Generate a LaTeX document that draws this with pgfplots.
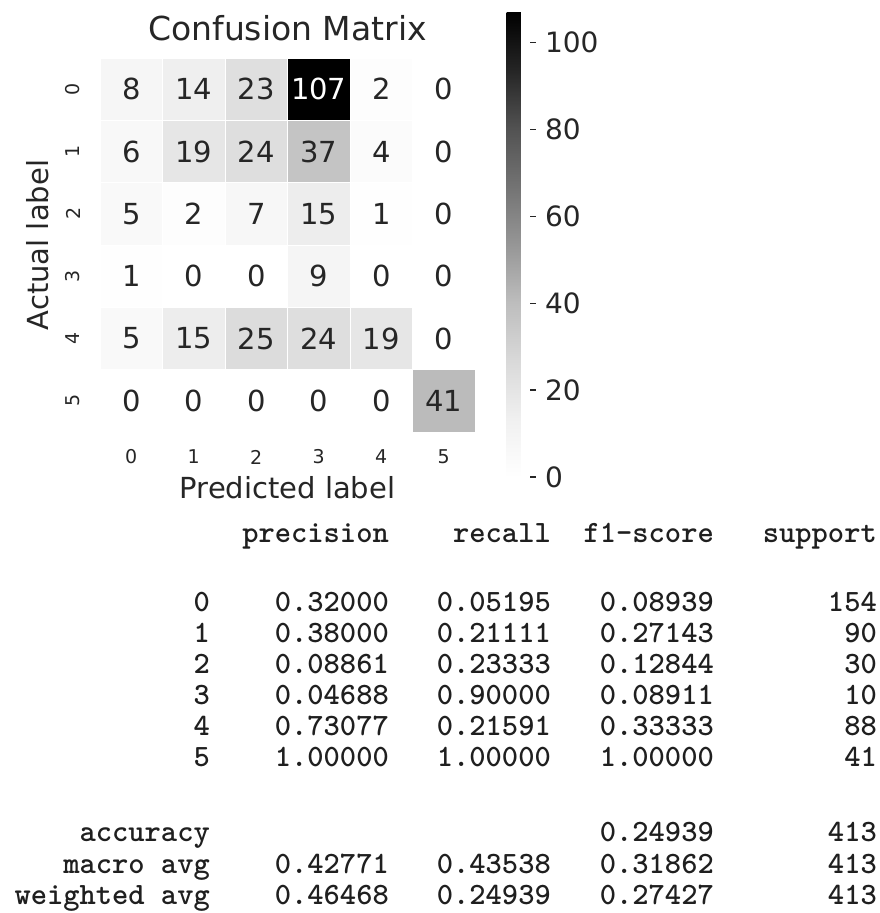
\documentclass[border=0pt]{standalone}
\usepackage{pgfplots}
\pgfplotsset{compat=1.18}
\usepackage{pgfplotstable}
\usepackage{fontspec}
\setmainfont{DejaVu Sans}
\definecolor{txt}{gray}{0.15}
\definecolor{tab}{gray}{0.12}
\pgfplotsset{/pgf/number format/assume math mode=true}

\pgfplotstableread{
x y C
0 0 8
1 0 14
2 0 23
3 0 107
4 0 2
5 0 0
0 1 6
1 1 19
2 1 24
3 1 37
4 1 4
5 1 0
0 2 5
1 2 2
2 2 7
3 2 15
4 2 1
5 2 0
0 3 1
1 3 0
2 3 0
3 3 9
4 3 0
5 3 0
0 4 5
1 4 15
2 4 25
3 4 24
4 4 19
5 4 0
0 5 0
1 5 0
2 5 0
3 5 0
4 5 0
5 5 41
}\cm

\tikzset{tt/.style={font=\fontsize{31}{31}\selectfont\ttfamily\bfseries, inner sep=0pt, text=tab, anchor=base east}}
\newcommand{\trow}[6]{%
  \node[tt] at (210pt,-#6pt) {#1};
  \node[tt] at (389pt,-#6pt) {#2};
  \node[tt] at (551pt,-#6pt) {#3};
  \node[tt] at (714pt,-#6pt) {#4};
  \node[tt] at (877pt,-#6pt) {#5};
}

\begin{document}
\begin{tikzpicture}
\path[use as bounding box] (0,0) rectangle (880pt,-913pt);
\begin{axis}[
  at={(100pt,-58pt)}, anchor=north west,
  width=375pt, height=374pt, scale only axis,
  xmin=-0.5, xmax=5.5, ymin=-0.5, ymax=5.5,
  y dir=reverse,
  xtick={0,...,5}, ytick={0,...,5},
  major tick length=0pt,
  axis line style={draw=none},
  colormap={greys}{rgb=(1,1,1) rgb=(0.941176,0.941176,0.941176) rgb=(0.85098,0.85098,0.85098) rgb=(0.741176,0.741176,0.741176) rgb=(0.588235,0.588235,0.588235) rgb=(0.45098,0.45098,0.45098) rgb=(0.321569,0.321569,0.321569) rgb=(0.145098,0.145098,0.145098) rgb=(0,0,0)},
  point meta min=0, point meta max=107,
  ticklabel style={font=\fontsize{19}{22}\selectfont, text=txt},
  xticklabel style={anchor=center},
  xticklabel shift=25pt,
  yticklabel style={rotate=90, anchor=center},
  yticklabel shift=27pt,
  title={Confusion Matrix},
  title style={at={(axis description cs:0.5,1)}, anchor=base, yshift=12pt, font=\fontsize{33}{40}\selectfont, text=txt},
  xlabel={Predicted label},
  xlabel style={at={(axis description cs:0.5,0)}, anchor=base, yshift=-66pt, font=\fontsize{29}{34}\selectfont, text=txt},
  ylabel={Actual label},
  ylabel style={at={(axis description cs:-0.1653,0.5)}, anchor=center, font=\fontsize{29}{34}\selectfont, text=txt},
  colorbar,
  colorbar style={
    at={(parent axis.north east)}, anchor=north west, xshift=23pt, yshift=46pt,
    width=23pt, height=465pt, scale only axis,
    ytick={0,20,...,100},
    ytick pos=right, yticklabel pos=right,
    axis line style={draw=none},
    major tick length=6pt, tick align=outside,
    tick style={draw=txt, line width=1.2pt},
    yticklabel style={font=\fontsize{28}{32}\selectfont, text=txt, xshift=6pt},
  },
]
\addplot[matrix plot*, mesh/cols=6, point meta=explicit, draw=white, line width=1pt]
  table[x=x, y=y, meta=C] {\cm};
\addplot[draw=none, mark=none, point meta=explicit,
  restrict expr to domain={\thisrow{C}}{0:80},
  nodes near coords, nodes near coords align=center,
  every node near coord/.append style={font=\fontsize{29}{34}\selectfont, text=txt, anchor=center}]
  table[x=x, y=y, meta=C] {\cm};
\addplot[draw=none, mark=none, point meta=explicit,
  restrict expr to domain={\thisrow{C}}{81:200},
  nodes near coords, nodes near coords align=center,
  every node near coord/.append style={font=\fontsize{29}{34}\selectfont, text=white, anchor=center}]
  table[x=x, y=y, meta=C] {\cm};
\end{axis}
\trow{}{precision}{recall}{f1-score}{support}{542}
\trow{0}{0.32000}{0.05195}{0.08939}{154}{611}
\trow{1}{0.38000}{0.21111}{0.27143}{90}{642}
\trow{2}{0.08861}{0.23333}{0.12844}{30}{673}
\trow{3}{0.04688}{0.90000}{0.08911}{10}{704}
\trow{4}{0.73077}{0.21591}{0.33333}{88}{735}
\trow{5}{1.00000}{1.00000}{1.00000}{41}{766}
\trow{accuracy}{}{}{0.24939}{413}{841}
\trow{macro avg}{0.42771}{0.43538}{0.31862}{413}{873}
\trow{weighted avg}{0.46468}{0.24939}{0.27427}{413}{904}
\end{tikzpicture}
\end{document}
